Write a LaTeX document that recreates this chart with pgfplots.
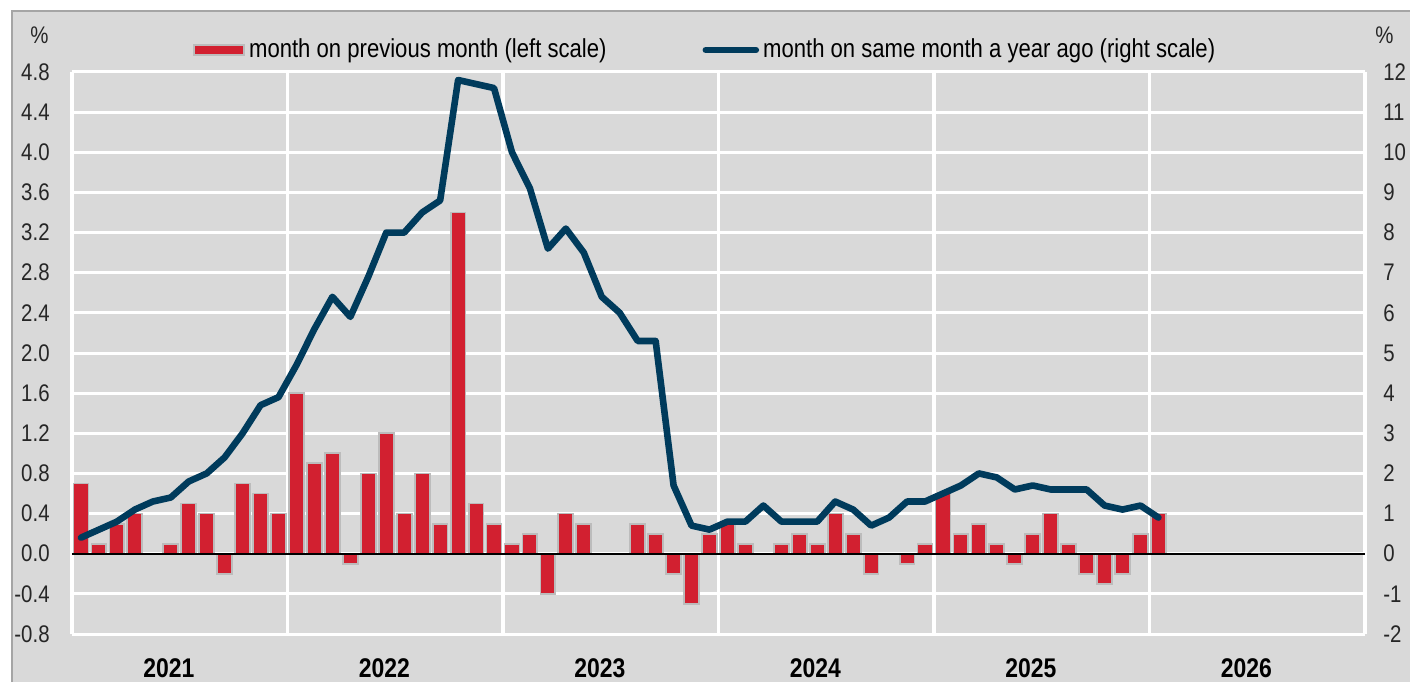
\documentclass[border=0pt]{standalone}
\usepackage{fontspec}
\setmainfont{Liberation Sans}[FakeStretch=0.85]
\usepackage{pgfplots}
\usepackage{pgfplotstable}
\pgfplotsset{compat=1.18}
\definecolor{bggray}{RGB}{217,217,217}
\definecolor{barred}{RGB}{210,32,48}
\definecolor{barline}{RGB}{188,188,188}
\definecolor{navy}{RGB}{0,59,92}
\definecolor{framegray}{RGB}{165,165,165}

\pgfplotstableread{
x y
0.5 0.7
1.5 0.1
2.5 0.3
3.5 0.4
4.5 0
5.5 0.1
6.5 0.5
7.5 0.4
8.5 -0.2
9.5 0.7
10.5 0.6
11.5 0.4
12.5 1.6
13.5 0.9
14.5 1.0
15.5 -0.1
16.5 0.8
17.5 1.2
18.5 0.4
19.5 0.8
20.5 0.3
21.5 3.4
22.5 0.5
23.5 0.3
24.5 0.1
25.5 0.2
26.5 -0.4
27.5 0.4
28.5 0.3
29.5 0
30.5 0
31.5 0.3
32.5 0.2
33.5 -0.2
34.5 -0.5
35.5 0.2
36.5 0.3
37.5 0.1
38.5 0
39.5 0.1
40.5 0.2
41.5 0.1
42.5 0.4
43.5 0.2
44.5 -0.2
45.5 0
46.5 -0.1
47.5 0.1
48.5 0.6
49.5 0.2
50.5 0.3
51.5 0.1
52.5 -0.1
53.5 0.2
54.5 0.4
55.5 0.1
56.5 -0.2
57.5 -0.3
58.5 -0.2
59.5 0.2
60.5 0.4
}\mom

\pgfplotstableread{
x y
0.5 0.4
1.5 0.6
2.5 0.8
3.5 1.1
4.5 1.3
5.5 1.4
6.5 1.8
7.5 2.0
8.5 2.4
9.5 3.0
10.5 3.7
11.5 3.9
12.5 4.7
13.5 5.6
14.5 6.4
15.5 5.9
16.5 6.9
17.5 8.0
18.5 8.0
19.5 8.5
20.5 8.8
21.5 11.8
22.5 11.7
23.5 11.6
24.5 10.0
25.5 9.1
26.5 7.6
27.5 8.1
28.5 7.5
29.5 6.4
30.5 6.0
31.5 5.3
32.5 5.3
33.5 1.7
34.5 0.7
35.5 0.6
36.5 0.8
37.5 0.8
38.5 1.2
39.5 0.8
40.5 0.8
41.5 0.8
42.5 1.3
43.5 1.1
44.5 0.7
45.5 0.9
46.5 1.3
47.5 1.3
48.5 1.5
49.5 1.7
50.5 2.0
51.5 1.9
52.5 1.6
53.5 1.7
54.5 1.6
55.5 1.6
56.5 1.6
57.5 1.2
58.5 1.1
59.5 1.2
60.5 0.9
}\yoy

\begin{document}
\begin{tikzpicture}
\path[use as bounding box] (-36pt,-24pt) rectangle (669pt,317pt);
\fill[white] (-36pt,-24pt) rectangle (669pt,317pt);
\fill[bggray] (-30pt,-24pt) rectangle (669pt,311.5pt);
\draw[framegray, line width=0.6pt] (-30pt,-24pt) -- (-30pt,311.5pt) -- (669pt,311.5pt);

\begin{axis}[
  at={(0pt,0pt)}, anchor=south west,
  width=646.5pt, height=281pt, scale only axis,
  xmin=0, xmax=72, ymin=-0.8, ymax=4.8,
  axis line style={draw=none},
  major tick length=0pt, minor tick length=0pt,
  xtick=\empty,
  minor xtick={3,6,9,15,18,21,27,30,33,39,42,45,51,54,57,63,66,69},
  xminorgrids=true,
  minor grid style={white, line width=1pt},
  extra x ticks={0,12,24,36,48,60,72},
  extra x tick labels={},
  extra x tick style={grid=major, major grid style={white, line width=1.6pt}},
  ytick={-0.8,-0.4,0,0.4,0.8,1.2,1.6,2.0,2.4,2.8,3.2,3.6,4.0,4.4,4.8},
  yticklabels={-0.8,-0.4,0.0,0.4,0.8,1.2,1.6,2.0,2.4,2.8,3.2,3.6,4.0,4.4,4.8},
  ymajorgrids=true,
  major grid style={white, line width=1.5pt},
  ytick pos=left,
  yticklabel style={font=\fontsize{12}{13}\selectfont, text=black!85, inner sep=0pt, anchor=east},
  yticklabel shift=11pt,
]
\addplot[ybar, bar width=0.83, bar shift=0pt, fill=barred, draw=barline, line width=0.9pt] table[x=x,y=y]{\mom};
\draw[black, line width=1.1pt] (axis cs:0,0) -- (axis cs:72,0);
\end{axis}

\begin{axis}[
  at={(0pt,0pt)}, anchor=south west,
  width=646.5pt, height=281pt, scale only axis,
  xmin=0, xmax=72, ymin=-2, ymax=12,
  axis line style={draw=none},
  major tick length=0pt, minor tick length=0pt,
  xtick={5.4,17.4,29.4,41.4,53.4,65.4},
  xticklabels={2021,2022,2023,2024,2025,2026},
  xticklabel style={font=\fontsize{13.5}{14}\selectfont\bfseries, text=black, inner sep=0pt, anchor=north},
  xticklabel shift=12pt,
  ytick={-2,-1,0,1,2,3,4,5,6,7,8,9,10,11,12},
  yticklabels={-2,-1,0,1,2,3,4,5,6,7,8,9,10,11,12},
  ytick pos=right, yticklabel pos=right,
  yticklabel style={font=\fontsize{12}{13}\selectfont, text=black!85, inner sep=0pt, anchor=west},
  yticklabel shift=9pt,
  legend columns=2,
  legend cell align=left,
  legend style={draw=none, fill=none, at={(0.0935,1)}, anchor=west, yshift=11pt, inner sep=0pt,
    font=\fontsize{13}{14}\selectfont, text=black,
    /tikz/every even column/.append style={column sep=46pt}},
]
\addlegendimage{legend image code/.code={\draw[fill=barred, draw=barline, line width=0.9pt] (0pt,-2.5pt) rectangle (25pt,2.5pt);}}
\addlegendentry{month on previous month (left scale)}
\addplot[navy, line width=3.3pt, line join=round, line cap=round,
  legend image code/.code={\draw[navy, line width=3.3pt, line cap=round] (1.5pt,0pt) -- (26.5pt,0pt);}]
  table[x=x,y=y]{\yoy};
\addlegendentry{month on same month a year ago (right scale)}
\end{axis}

\node[font=\fontsize{12}{13}\selectfont, text=black!85, inner sep=0pt] at (-16.25pt,299.5pt) {\%};
\node[font=\fontsize{12}{13}\selectfont, text=black!85, inner sep=0pt] at (656.25pt,299.5pt) {\%};
\end{tikzpicture}
\end{document}
